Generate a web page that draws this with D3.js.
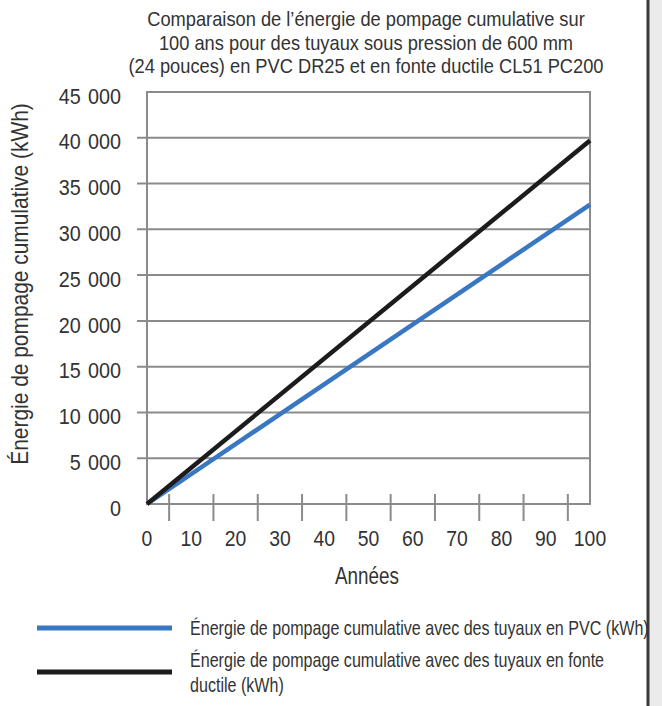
<!DOCTYPE html>
<html><head><meta charset="utf-8">
<script src="https://cdn.jsdelivr.net/npm/d3@7"></script>
<style>
html,body{margin:0;padding:0;background:#fff;}
text{font-family:"Liberation Sans",Arial,sans-serif;fill:#333;}
</style></head>
<body><svg id="c" width="662" height="706"></svg>
<script>
const titleLines = ["Comparaison de l’énergie de pompage cumulative sur","100 ans pour des tuyaux sous pression de 600 mm","(24 pouces) en PVC DR25 et en fonte ductile CL51 PC200"];
const years = [0, 100];
const pvcValues = [0, 32700];
const ductileValues = [0, 39700];
const yTicks = [0,5000,10000,15000,20000,25000,30000,35000,40000,45000];
const xTickLabels = [0,10,20,30,40,50,60,70,80,90,100];
const xTickMarks = [5,15,25,35,45,55,65,75,85,95];
const seriesNames = ["Énergie de pompage cumulative avec des tuyaux en PVC (kWh)","Énergie de pompage cumulative avec des tuyaux en fonte|ductile (kWh)"];
const seriesColors = ["#3a77c2","#1c1c1c"];
const xTitle = "Années";
const yTitle = "Énergie de pompage cumulative (kWh)";

const svg = d3.select("#c");
const L=147, R=590, T=92, B=504;
const x = d3.scaleLinear().domain([0,100]).range([L,R]);
const y = d3.scaleLinear().domain([0,45000]).range([B,T]);
const grid="#8b8b8b";

function txt(px, py, s, size, anchor, sx, rot){
  const g = svg.append("g").attr("transform",`translate(${px},${py})${rot?` rotate(${rot})`:""} scale(${sx},1)`);
  return g.append("text").attr("text-anchor",anchor||"start").attr("dy","0.35em").style("font-size",size+"px").text(s);
}

// right border
svg.append("rect").attr("x",649).attr("y",0).attr("width",13).attr("height",706).attr("fill","#ebebeb");
svg.append("line").attr("x1",648).attr("x2",648).attr("y1",0).attr("y2",706).attr("stroke","#3a3a3a").attr("stroke-width",3);

// title
titleLines.forEach((t,i)=>txt(366, 19+i*23.5, t, 21, "middle", 0.87));

// gridlines
const fmt = v => d3.format(",")(v).replace(/,/g," ");
svg.append("g").selectAll("line").data(yTicks.filter(v=>v>0&&v<45000)).join("line")
  .attr("x1",L-10).attr("x2",R).attr("y1",d=>y(d)).attr("y2",d=>y(d))
  .attr("stroke",grid).attr("stroke-width",2);
svg.append("rect").attr("x",L).attr("y",T).attr("width",R-L).attr("height",B-T)
  .attr("fill","none").attr("stroke",grid).attr("stroke-width",2);
yTicks.forEach(v=>txt(121, y(v)+4, fmt(v), 22, "end", 0.9).style("word-spacing","2px"));

// x ticks
svg.append("g").selectAll("line").data(xTickMarks).join("line")
  .attr("x1",d=>x(d)).attr("x2",d=>x(d)).attr("y1",B-10).attr("y2",B+17)
  .attr("stroke",grid).attr("stroke-width",2);
xTickLabels.forEach(v=>txt(x(v), 538, String(v), 22, "middle", 0.88));

txt(367, 576, xTitle, 23, "middle", 0.82);
txt(20, 284, yTitle, 23, "middle", 0.91, -90);

// lines
const line = d3.line().x(d=>x(d[0])).y(d=>y(d[1]));
[pvcValues, ductileValues].forEach((vals,i)=>{
  svg.append("path").datum(years.map((yr,j)=>[yr,vals[j]]))
    .attr("d",line).attr("fill","none").attr("stroke",seriesColors[i]).attr("stroke-width",4.5);
});

// legend
const legY=[628,672];
seriesNames.forEach((name,i)=>{
  svg.append("line").attr("x1",37).attr("x2",172).attr("y1",legY[i]).attr("y2",legY[i])
    .attr("stroke",seriesColors[i]).attr("stroke-width",5);
  const parts=name.split("|");
  parts.forEach((p,k)=>txt(190, legY[i]-(parts.length-1)*12.5+k*25, p, 20, "start", 0.805));
});
</script></body></html>
